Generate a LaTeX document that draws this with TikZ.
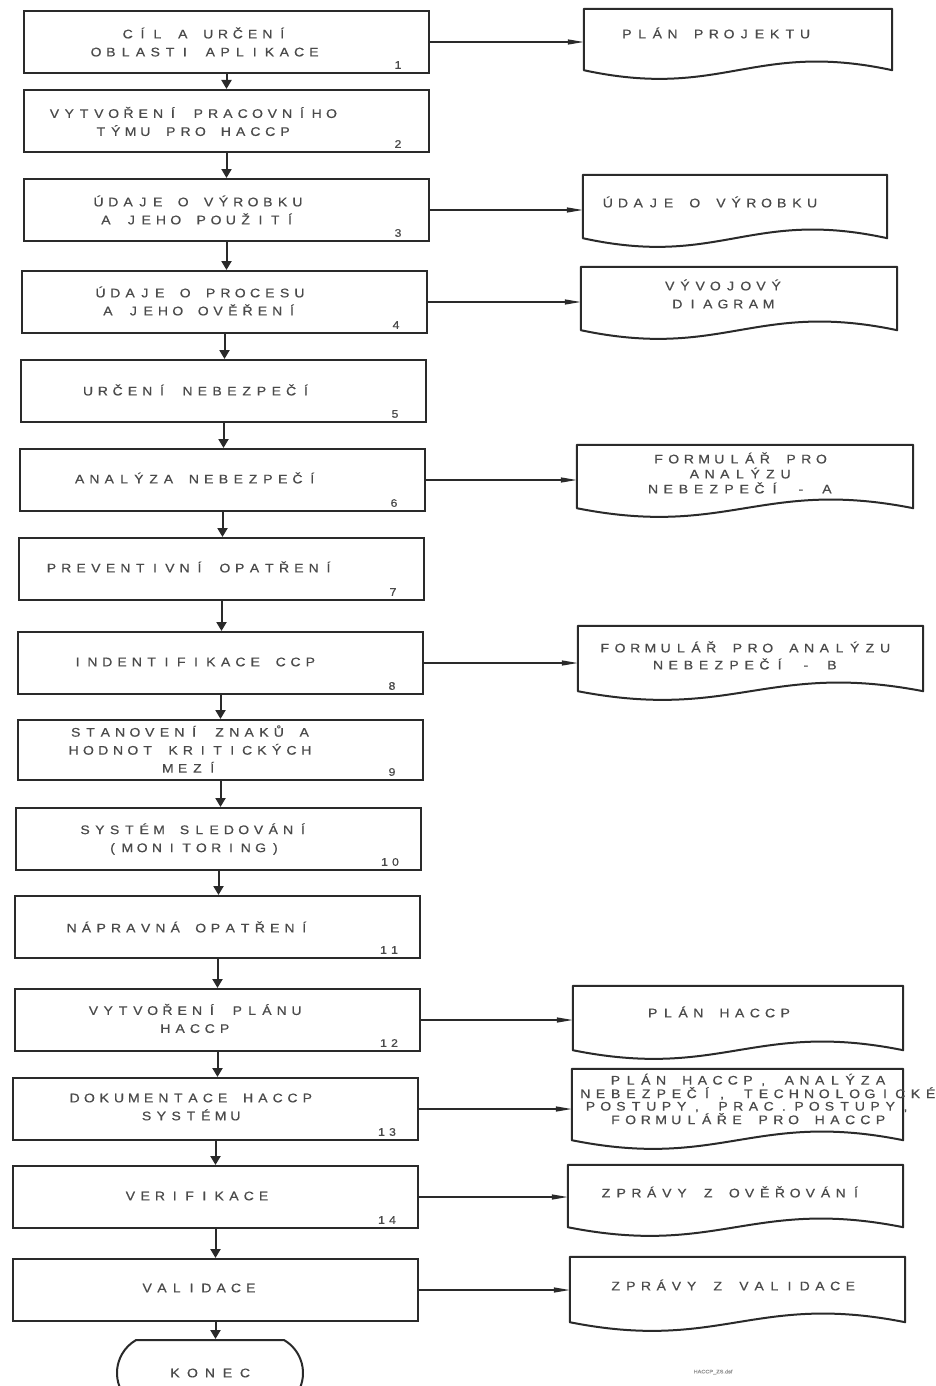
\documentclass[tikz,border=0pt]{standalone}
\usepackage{fontspec}
\setmainfont{Liberation Sans}[FakeStretch=1.12,FakeBold=0.5]
\usetikzlibrary{arrows.meta,shapes.misc,calc}
\definecolor{ink}{HTML}{2A2A2A}
\definecolor{txtc}{HTML}{4A4A4A}
\newlength\pitch
\setlength\pitch{15pt}
\ExplSyntaxOn
\NewDocumentCommand\Spaced{m}{\str_map_inline:nn{#1}{\tl_if_blank:nTF{##1}{\hspace*{0.72\pitch}}{\makebox[\pitch][c]{##1}}}}
\ExplSyntaxOff
\newcommand\docoutline[1]{%
  \draw[docline] (#1.south west) -- (#1.north west) -- (#1.north east) -- (#1.south east)
    .. controls ($(#1.south east)!0.45!(#1.south west)+(0,-30)$) and ($(#1.south east)!0.55!(#1.south west)+(0,30)$) .. (#1.south west) -- cycle;}
\begin{document}
\begin{tikzpicture}[x=1pt,y=-1pt,
  box/.style={draw=ink,line width=2pt,minimum width=405pt,minimum height=62pt,inner sep=0pt},
  lbl/.style={text=txtc,font=\fontsize{12.5}{18}\selectfont,align=center,inner sep=0pt,
    execute at begin node={\setlength\pitch{14.8pt}}},
  dlbl/.style={text=txtc,font=\fontsize{12.5}{18}\selectfont,align=center,inner sep=0pt,
    execute at begin node={\setlength\pitch{15.2pt}}},
  num/.style={text=txtc,font=\fontsize{11}{12}\selectfont,inner sep=0pt,
    execute at begin node={\setlength\pitch{11pt}}},
  docnode/.style={minimum width=#1,minimum height=62pt,inner sep=0pt},
  docline/.style={draw=ink,line width=2pt,line join=round},
  varrow/.style={draw=ink,line width=2pt,-{Triangle[length=9pt,width=10pt]}},
  harrow/.style={draw=ink,line width=1.3pt,-{Triangle[length=16pt,width=5pt]}},
  term/.style={draw=ink,line width=2pt,rounded rectangle,rounded rectangle arc length=120,
    minimum width=186pt,minimum height=66pt,inner sep=0pt,text=txtc,
    font=\fontsize{12.5}{14}\selectfont}
]
\useasboundingbox (0,0) rectangle (936,1386);
\fill[white] (0,0) rectangle (936,1386);
\clip (0,0) rectangle (936,1386);

% ---- main column boxes ----
\node[box] (b1)  at (226.5,42)   {};
\node[box] (b2)  at (226.5,121)  {};
\node[box] (b3)  at (226.5,210)  {};
\node[box] (b4)  at (224.5,302)  {};
\node[box] (b5)  at (223.5,391)  {};
\node[box] (b6)  at (222.5,480)  {};
\node[box] (b7)  at (221.5,569)  {};
\node[box] (b8)  at (220.5,663)  {};
\node[box,minimum height=60pt] (b9)  at (220.5,750) {};
\node[box] (b10) at (218.5,839)  {};
\node[box] (b11) at (217.5,927)  {};
\node[box] (b12) at (217.5,1020) {};
\node[box] (b13) at (215.5,1109) {};
\node[box] (b14) at (215.5,1197) {};
\node[box] (b15) at (215.5,1290) {};
\node[term] (konec) at (210,1373) {\setlength\pitch{17.5pt}\Spaced{KONEC}};

% ---- texts ----
\node[lbl] (t1)  at (205,42)    {\Spaced{CÍL A URČENÍ}\\\Spaced{OBLASTI APLIKACE}};
\node[lbl] (t2)  at (193,121.5) {\Spaced{VYTVOŘENÍ PRACOVNÍHO}\\\Spaced{TÝMU PRO HACCP}};
\node[lbl] (t3)  at (198,210)   {\Spaced{ÚDAJE O VÝROBKU}\\\Spaced{A JEHO POUŽITÍ}};
\node[lbl] (t4)  at (200,301)   {\Spaced{ÚDAJE O PROCESU}\\\Spaced{A JEHO OVĚŘENÍ}};
\node[lbl] (t5)  at (197,390)   {\Spaced{URČENÍ NEBEZPEČÍ}};
\node[lbl] (t6)  at (196,478)   {\Spaced{ANALÝZA NEBEZPEČÍ}};
\node[lbl] (t7)  at (190,567)   {\Spaced{PREVENTIVNÍ OPATŘENÍ}};
\node[lbl] (t8)  at (194,662)   {\Spaced{INDENTIFIKACE CCP}};
\node[lbl] (t9)  at (190,749)   {\Spaced{STANOVENÍ ZNAKŮ A}\\\Spaced{HODNOT KRITICKÝCH}\\\Spaced{MEZÍ}};
\node[lbl] (t10) at (194,839)   {\Spaced{SYSTÉM SLEDOVÁNÍ}\\\Spaced{(MONITORING)}};
\node[lbl] (t11) at (188,927)   {\Spaced{NÁPRAVNÁ OPATŘENÍ}};
\node[lbl] (t12) at (195,1018.5){\Spaced{VYTVOŘENÍ PLÁNU}\\\Spaced{HACCP}};
\node[lbl] (t13) at (191,1107)  {\Spaced{DOKUMENTACE HACCP}\\\Spaced{SYSTÉMU}};
\node[lbl] (t14) at (197,1196)  {\Spaced{VERIFIKACE}};
\node[lbl] (t15) at (199,1288)  {\Spaced{VALIDACE}};

% ---- step numbers ----
\foreach \i in {1,...,14}{
  \node[num] (n\i) at ([shift={(-32,-9)}]b\i.south east) {\expandafter\Spaced\expandafter{\i}};
}

% ---- document shapes ----
\node[docnode=308pt,minimum height=61pt] (d1) at (738,39.5) {};
\node[docnode=304pt,minimum height=63pt] (d2) at (735,206.5) {};
\node[docnode=316pt,minimum height=63pt] (d3) at (739,298.5) {};
\node[docnode=336pt,minimum height=63pt] (d4) at (745,476.5) {};
\node[docnode=345pt,minimum height=65pt] (d5) at (750.5,658.5) {};
\node[docnode=330pt,minimum height=64pt] (d6) at (738,1018) {};
\node[docnode=331pt,minimum height=71pt] (d7) at (737.5,1104.5) {};
\node[docnode=335pt] (d8) at (735.5,1196) {};
\node[docnode=335pt,minimum height=65pt] (d9) at (737.5,1289.5) {};
\foreach \d in {d1,d2,d3,d4,d5,d6,d7,d8,d9}{\docoutline{\d}}

\node[dlbl] (s1) at (716,33)   {\Spaced{PLÁN PROJEKTU}};
\node[dlbl] (s2) at (710,202)  {\Spaced{ÚDAJE O VÝROBKU}};
\node[dlbl] (s3) at (723,294)  {\Spaced{VÝVOJOVÝ}\\\Spaced{DIAGRAM}};
\node[dlbl,font=\fontsize{12.5}{15}\selectfont] (s4) at (740,473) {\Spaced{FORMULÁŘ PRO}\\\Spaced{ANALÝZU}\\\Spaced{NEBEZPEČÍ - A}};
\node[dlbl,font=\fontsize{12.5}{17}\selectfont] (s5) at (745,655.5) {\Spaced{FORMULÁŘ PRO ANALÝZU}\\\Spaced{NEBEZPEČÍ - B}};
\node[dlbl] (s6) at (719,1012) {\Spaced{PLÁN HACCP}};
\node[dlbl,font=\fontsize{12.5}{12.5}\selectfont] (s7) at (748,1099)
  {\Spaced{PLÁN HACCP, ANALÝZA}\\\hspace*{20pt}\Spaced{NEBEZPEČÍ, TECHNOLOGICKÉ}\\\Spaced{POSTUPY, PRAC.POSTUPY,}\hspace*{14pt}\\\Spaced{FORMULÁŘE PRO HACCP}};
\node[dlbl] (s8) at (731,1192) {\Spaced{ZPRÁVY Z OVĚŘOVÁNÍ}};
\node[dlbl] (s9) at (733,1285) {\Spaced{ZPRÁVY Z VALIDACE}};

\node[text=txtc!60,font=\fontsize{5}{6}\selectfont,inner sep=0pt] (foot) at (713,1372) {HACCP\_ZS.dsf};

% ---- vertical connectors ----
\foreach \a/\b in {b1/b2,b2/b3,b3/b4,b4/b5,b5/b6,b6/b7,b7/b8,b8/b9,b9/b10,b10/b11,b11/b12,b12/b13,b13/b14,b14/b15,b15/konec}{
  \draw[varrow] (\a.south) -- (\a.south |- \b.north);
}

% ---- horizontal connectors ----
\foreach \a/\b in {b1/d1,b3/d2,b4/d3,b6/d4,b8/d5,b12/d6,b13/d7,b14/d8,b15/d9}{
  \draw[harrow] (\a.east) -- (\a.east -| \b.west);
}
\end{tikzpicture}
\end{document}
